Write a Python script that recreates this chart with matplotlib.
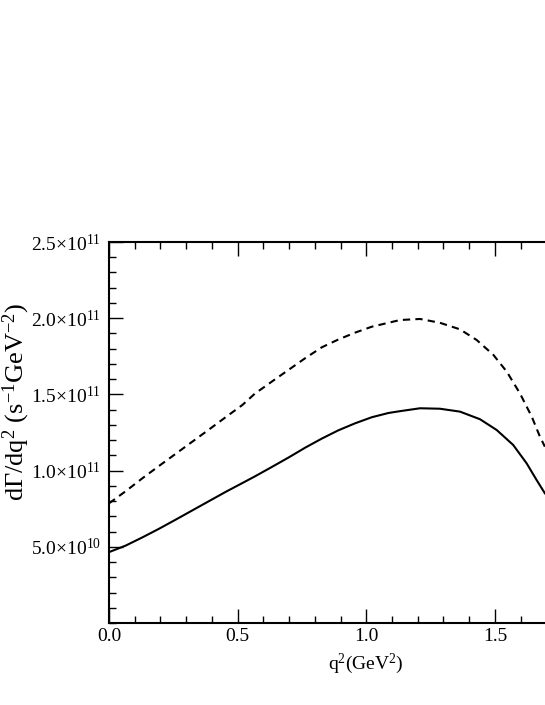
import numpy as np
import matplotlib
matplotlib.use("Agg")
import matplotlib.pyplot as plt
from matplotlib.ticker import MultipleLocator, FuncFormatter

plt.rcParams['font.family'] = ['Liberation Serif', 'DejaVu Serif']
plt.rcParams['mathtext.fontset'] = 'custom'
plt.rcParams['mathtext.rm'] = 'Liberation Serif'
plt.rcParams['mathtext.it'] = 'Liberation Serif:italic'

# values (y in units of 1e10 s^-1 GeV^-2)
q2_dashed = [0.0, 0.065, 0.13, 0.194, 0.259, 0.324, 0.389, 0.453, 0.518, 0.567,
             0.632, 0.697, 0.762, 0.827, 0.891, 0.956, 1.021, 1.086, 1.131, 1.209,
             1.286, 1.364, 1.429, 1.494, 1.546, 1.597, 1.643, 1.675, 1.694]
rate_dashed = [7.85, 8.65, 9.5, 10.3, 11.1, 11.9, 12.7, 13.5, 14.3, 15.05,
               15.83, 16.6, 17.37, 18.09, 18.6, 19.05, 19.44, 19.7, 19.88, 19.95,
               19.7, 19.27, 18.57, 17.59, 16.49, 15.07, 13.54, 12.22, 11.57]

q2_solid = [0.0, 0.065, 0.13, 0.194, 0.259, 0.324, 0.389, 0.453, 0.518, 0.567,
            0.632, 0.697, 0.762, 0.827, 0.891, 0.956, 1.021, 1.086, 1.131, 1.209,
            1.286, 1.364, 1.442, 1.507, 1.571, 1.623, 1.662, 1.694]
rate_solid = [4.65, 5.08, 5.62, 6.18, 6.78, 7.39, 8.0, 8.6, 9.18, 9.62,
              10.23, 10.85, 11.5, 12.1, 12.64, 13.1, 13.5, 13.78, 13.9, 14.09,
              14.06, 13.87, 13.37, 12.66, 11.68, 10.48, 9.38, 8.51]

y_ticks = [5e10, 1e11, 1.5e11, 2e11, 2.5e11]
y_tick_labels = [r"5.0$\times$10$^{10}$", r"1.0$\times$10$^{11}$", r"1.5$\times$10$^{11}$",
                 r"2.0$\times$10$^{11}$", r"2.5$\times$10$^{11}$"]

fig = plt.figure(figsize=(5.45, 7.05), dpi=100)
ax = fig.add_axes([109/545, 82/705, 514.6/545, 381/705])

ax.plot(q2_solid, np.array(rate_solid) * 1e10, color="black", linewidth=1.5)
ax.plot(q2_dashed, np.array(rate_dashed) * 1e10, color="black", linewidth=1.5,
        linestyle=(0, (3.5, 2.5)))

ax.set_xlim(0, 2.0)
ax.set_ylim(0, 2.5e11)

ax.xaxis.set_major_locator(MultipleLocator(0.5))
ax.xaxis.set_minor_locator(MultipleLocator(0.1))
# the 2.0 label lies outside the cropped picture
ax.xaxis.set_major_formatter(FuncFormatter(lambda v, p: "%.1f" % v if v < 1.6 else ""))
ax.set_yticks(y_ticks)
ax.set_yticklabels(y_tick_labels)
ax.yaxis.set_minor_locator(MultipleLocator(1e10))

ax.tick_params(which="both", direction="in", top=True, right=True, labelsize=14)
ax.tick_params(which="major", length=10, width=1)
ax.tick_params(which="minor", length=5, width=1)
ax.tick_params(axis="y", pad=6)
for s in ax.spines.values():
    s.set_linewidth(1.5)

ax.set_xlabel(r"q$^2$(GeV$^2$)", fontsize=14)
ax.set_ylabel(r"d$\Gamma$/dq$^2$ (s$^{-1}$GeV$^{-2}$)", fontsize=19)
ax.yaxis.set_label_coords(-0.15, 0.579)
ax.xaxis.set_label_coords(0.5, -0.076)

fig.savefig("out.png", dpi=100)
